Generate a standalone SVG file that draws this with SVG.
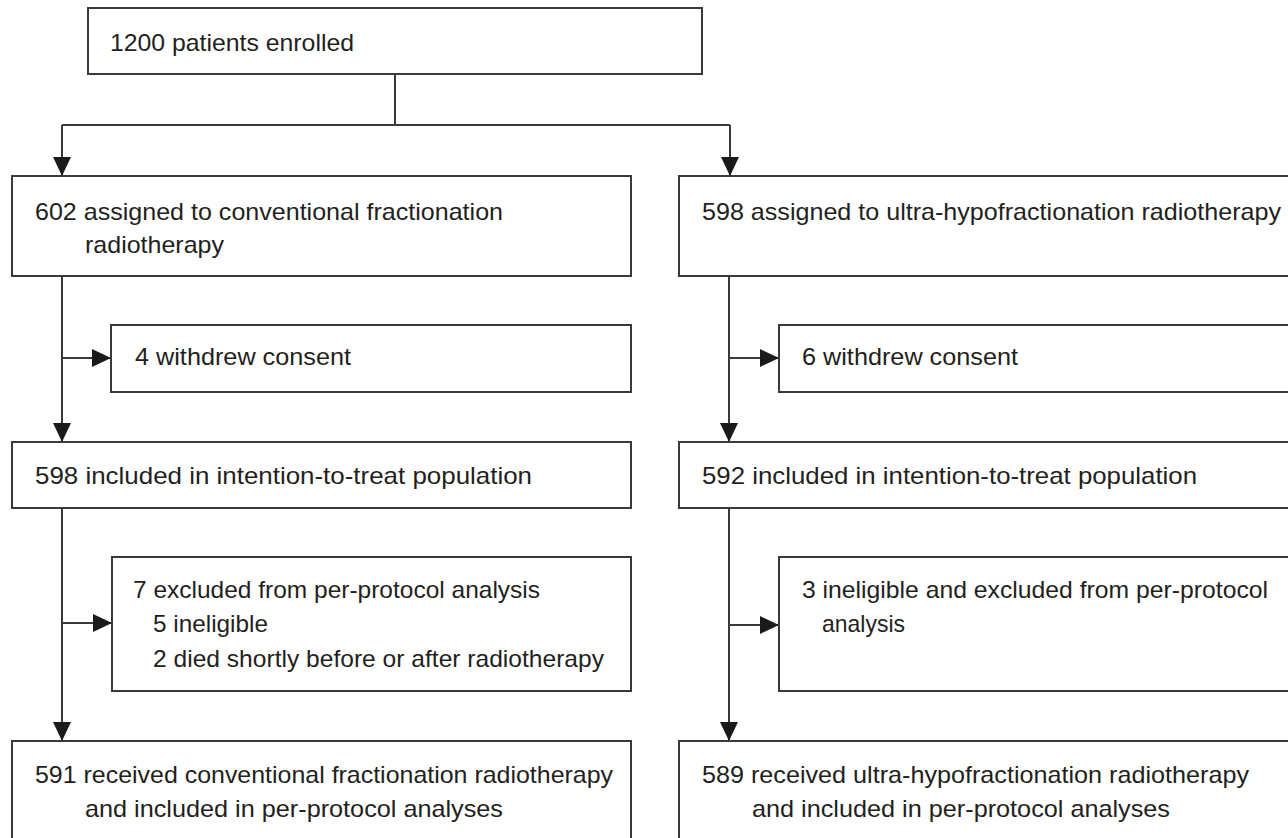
<svg xmlns="http://www.w3.org/2000/svg" width="1288" height="838" viewBox="0 0 1288 838">
<defs>
<style>
.box{fill:#fff;stroke:#3a3a3a;stroke-width:2}
.ln{fill:none;stroke:#3a3a3a;stroke-width:2}
text{font-family:"Liberation Sans",Arial,sans-serif;font-size:24px;fill:#231f20}
</style>
<marker id="ah" markerUnits="userSpaceOnUse" markerWidth="20" markerHeight="20" viewBox="0 0 20 20" refX="19" refY="10" orient="auto">
<polygon points="0,1 19,10 0,19" fill="#1a1a1a"/>
</marker>
</defs>
<rect width="1288" height="838" fill="#fff"/>
<g id="connectors">
<path class="ln" d="M395,74 V125"/>
<path class="ln" d="M62,125 H730"/>
<path class="ln" d="M62,125 V176" marker-end="url(#ah)"/>
<path class="ln" d="M730,125 V176" marker-end="url(#ah)"/>
<path class="ln" d="M62,276 V442" marker-end="url(#ah)"/>
<path class="ln" d="M62,358 H111" marker-end="url(#ah)"/>
<path class="ln" d="M729,276 V442" marker-end="url(#ah)"/>
<path class="ln" d="M729,358 H779" marker-end="url(#ah)"/>
<path class="ln" d="M62,508 V741" marker-end="url(#ah)"/>
<path class="ln" d="M62,623 H112" marker-end="url(#ah)"/>
<path class="ln" d="M729,508 V741" marker-end="url(#ah)"/>
<path class="ln" d="M729,625 H779" marker-end="url(#ah)"/>
</g>
<g id="enrolled">
<rect class="box" x="88" y="8" width="614" height="66"/>
<text x="110" y="51" textLength="244" lengthAdjust="spacingAndGlyphs">1200 patients enrolled</text>
</g>
<g id="assigned-conv">
<rect class="box" x="12" y="176" width="619" height="100"/>
<text x="35" y="220" textLength="468" lengthAdjust="spacingAndGlyphs">602 assigned to conventional fractionation</text>
<text x="85" y="253" textLength="139" lengthAdjust="spacingAndGlyphs">radiotherapy</text>
</g>
<g id="assigned-ultra">
<rect class="box" x="679" y="176" width="620" height="100"/>
<text x="702" y="220" textLength="579" lengthAdjust="spacingAndGlyphs">598 assigned to ultra-hypofractionation radiotherapy</text>
</g>
<g id="withdrew-conv">
<rect class="box" x="111" y="325" width="520" height="67"/>
<text x="135" y="365" textLength="216" lengthAdjust="spacingAndGlyphs">4 withdrew consent</text>
</g>
<g id="withdrew-ultra">
<rect class="box" x="779" y="325" width="520" height="67"/>
<text x="802" y="365" textLength="216" lengthAdjust="spacingAndGlyphs">6 withdrew consent</text>
</g>
<g id="itt-conv">
<rect class="box" x="12" y="442" width="619" height="66"/>
<text x="35" y="484" textLength="497" lengthAdjust="spacingAndGlyphs">598 included in intention-to-treat population</text>
</g>
<g id="itt-ultra">
<rect class="box" x="679" y="442" width="620" height="66"/>
<text x="702" y="484" textLength="495" lengthAdjust="spacingAndGlyphs">592 included in intention-to-treat population</text>
</g>
<g id="excluded-conv">
<rect class="box" x="112" y="557" width="519" height="134"/>
<text x="133" y="598" textLength="407" lengthAdjust="spacingAndGlyphs">7 excluded from per-protocol analysis</text>
<text x="153" y="632" textLength="115" lengthAdjust="spacingAndGlyphs">5 ineligible</text>
<text x="153" y="667" textLength="451" lengthAdjust="spacingAndGlyphs">2 died shortly before or after radiotherapy</text>
</g>
<g id="excluded-ultra">
<rect class="box" x="779" y="557" width="520" height="134"/>
<text x="802" y="598" textLength="466" lengthAdjust="spacingAndGlyphs">3 ineligible and excluded from per-protocol</text>
<text x="822" y="632" textLength="83" lengthAdjust="spacingAndGlyphs">analysis</text>
</g>
<g id="pp-conv">
<rect class="box" x="12" y="741" width="619" height="110"/>
<text x="35" y="783" textLength="578" lengthAdjust="spacingAndGlyphs">591 received conventional fractionation radiotherapy</text>
<text x="85" y="817" textLength="418" lengthAdjust="spacingAndGlyphs">and included in per-protocol analyses</text>
</g>
<g id="pp-ultra">
<rect class="box" x="679" y="741" width="620" height="110"/>
<text x="702" y="783" textLength="547" lengthAdjust="spacingAndGlyphs">589 received ultra-hypofractionation radiotherapy</text>
<text x="752" y="817" textLength="418" lengthAdjust="spacingAndGlyphs">and included in per-protocol analyses</text>
</g>
</svg>
